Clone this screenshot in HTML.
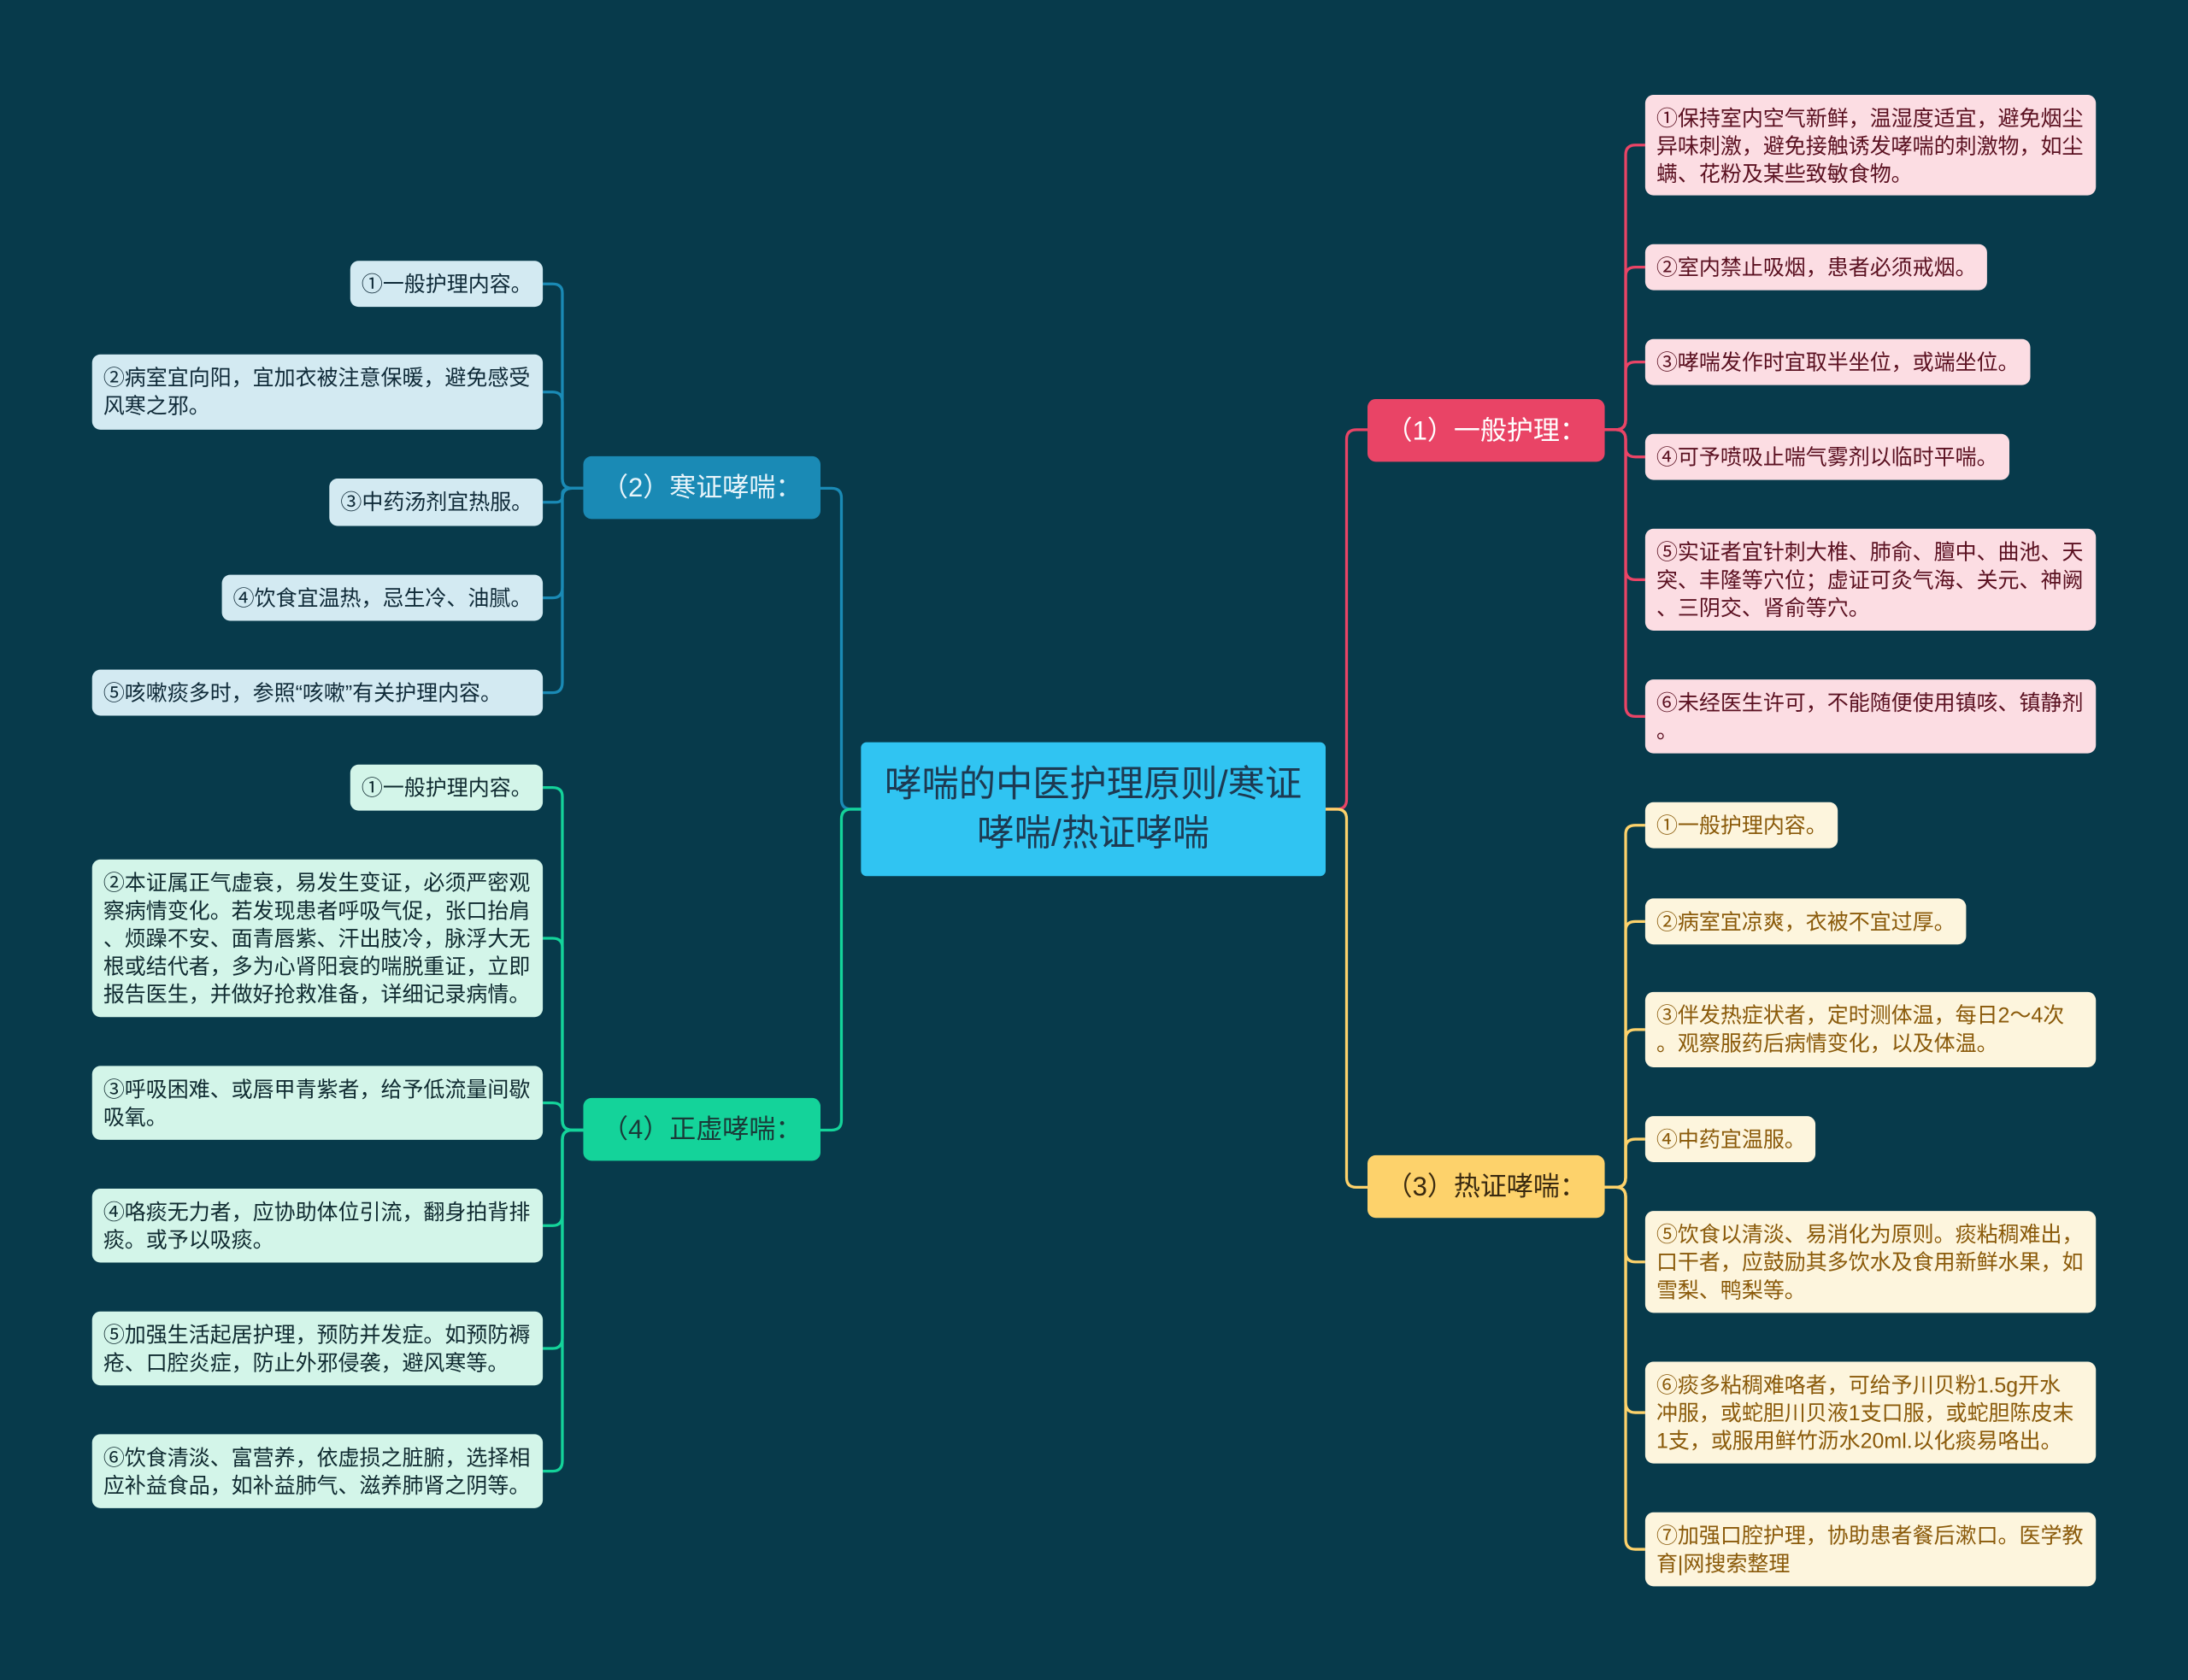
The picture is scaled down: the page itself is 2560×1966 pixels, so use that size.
<!DOCTYPE html>
<html><head><meta charset="utf-8">
<style>
html,body{margin:0;padding:0;background:#073a4b;width:2560px;height:1965px;overflow:hidden}
#s{position:absolute;left:0;top:0;width:1568px;height:1204px;transform:scale(1.63265);transform-origin:0 0;font-family:"Liberation Sans","Noto Sans CJK SC",sans-serif}
.b{position:absolute;box-sizing:border-box;border-radius:6px;font-size:15.3px;line-height:20px;padding:8px 7px 6px 8px;white-space:nowrap;overflow:hidden}
.p{background:#fcdde3;color:#5a1020}
.y{background:#fdf5dd;color:#8a5a0a}
.u{background:#d3eaf2;color:#0f2a38}
.g{background:#d3f5e9;color:#0f2a30}
.br{position:absolute;box-sizing:border-box;border-radius:6px;font-size:19px;line-height:47px;height:45px;width:170px;text-align:center}
svg{position:absolute;left:0;top:0}
path{fill:none;stroke-width:2}
</style></head><body><div id="s">
<svg width="1568" height="1204">
<g stroke="#e94466">
<path d="M950 580 H958 Q965 580 965 573 V315 Q965 308 972 308 H980"/>
<path d="M1150 308 H1158 Q1165 308 1165 301 V111 Q1165 104 1172 104 H1179"/>
<path d="M1150 308 H1158 Q1165 308 1165 301 V198 Q1165 191.5 1172 191.5 H1179"/>
<path d="M1150 308 H1158 Q1165 308 1165 301 V266 Q1165 259.5 1172 259.5 H1179"/>
<path d="M1150 308 H1158 Q1165 308 1165 315 V321 Q1165 327.5 1172 327.5 H1179"/>
<path d="M1150 308 H1158 Q1165 308 1165 315 V408 Q1165 415.5 1172 415.5 H1179"/>
<path d="M1150 308 H1158 Q1165 308 1165 315 V506 Q1165 513.5 1172 513.5 H1179"/>
</g>
<g stroke="#fdd26b">
<path d="M950 580 H958 Q965 580 965 587 V844 Q965 851 972 851 H980"/>
<path d="M1150 851 H1158 Q1165 851 1165 844 V598 Q1165 591.5 1172 591.5 H1179"/>
<path d="M1150 851 H1158 Q1165 851 1165 844 V667 Q1165 660.5 1172 660.5 H1179"/>
<path d="M1150 851 H1158 Q1165 851 1165 844 V745 Q1165 738 1172 738 H1179"/>
<path d="M1150 851 H1158 Q1165 851 1165 844 V823 Q1165 816.5 1172 816.5 H1179"/>
<path d="M1150 851 H1158 Q1165 851 1165 858 V897 Q1165 904.5 1172 904.5 H1179"/>
<path d="M1150 851 H1158 Q1165 851 1165 858 V1005 Q1165 1012.5 1172 1012.5 H1179"/>
<path d="M1150 851 H1158 Q1165 851 1165 858 V1103 Q1165 1110.5 1172 1110.5 H1179"/>
</g>
<g stroke="#1a8ab5">
<path d="M617 580 H610 Q603 580 603 573 V357 Q603 350 596 350 H588"/>
<path d="M418 350 H410 Q403 350 403 343 V210 Q403 203.5 396 203.5 H389"/>
<path d="M418 350 H410 Q403 350 403 343 V288 Q403 281 396 281 H389"/>
<path d="M418 350 H410 Q403 350 403 354 V356 Q403 360 398 360 H389"/>
<path d="M418 350 H410 Q403 350 403 357 V421 Q403 428.5 396 428.5 H389"/>
<path d="M418 350 H410 Q403 350 403 357 V489 Q403 496.5 396 496.5 H389"/>
</g>
<g stroke="#14d39a">
<path d="M617 580 H610 Q603 580 603 587 V803 Q603 810 596 810 H588"/>
<path d="M418 810 H410 Q403 810 403 803 V571 Q403 564.5 396 564.5 H389"/>
<path d="M418 810 H410 Q403 810 403 803 V679 Q403 672.5 396 672.5 H389"/>
<path d="M418 810 H410 Q403 810 403 803 V797 Q403 790.5 396 790.5 H389"/>
<path d="M418 810 H410 Q403 810 403 817 V871 Q403 878.5 396 878.5 H389"/>
<path d="M418 810 H410 Q403 810 403 817 V959 Q403 966.5 396 966.5 H389"/>
<path d="M418 810 H410 Q403 810 403 817 V1047 Q403 1054.5 396 1054.5 H389"/>
</g>
</svg>

<div class="b" style="left:617px;top:532px;width:333px;height:96px;background:#30c4f2;color:#1d3a52;font-size:26.5px;line-height:35px;text-align:center;padding:13px 4px;border-radius:4px">哮喘的中医护理原则/寒证<br>哮喘/热证哮喘</div>

<div class="br" style="left:980px;top:286px;background:#e94466;color:#fff">（1）一般护理：</div>
<div class="br" style="left:980px;top:828px;background:#fdd26b;color:#3a2a10">（3）热证哮喘：</div>
<div class="br" style="left:418px;top:327px;background:#1a8ab5;color:#e6f4fa">（2）寒证哮喘：</div>
<div class="br" style="left:418px;top:787px;background:#14d39a;color:#1a3a38">（4）正虚哮喘：</div>

<div class="b p" style="left:1179px;top:68px;width:323px;height:72px">①保持室内空气新鲜，温湿度适宜，避免烟尘<br>异味刺激，避免接触诱发哮喘的刺激物，如尘<br>螨、花粉及某些致敏食物。</div>
<div class="b p" style="left:1179px;top:175px;width:245px;height:33px">②室内禁止吸烟，患者必须戒烟。</div>
<div class="b p" style="left:1179px;top:243px;width:276px;height:33px">③哮喘发作时宜取半坐位，或端坐位。</div>
<div class="b p" style="left:1179px;top:311px;width:261px;height:33px">④可予喷吸止喘气雾剂以临时平喘。</div>
<div class="b p" style="left:1179px;top:379px;width:323px;height:73px">⑤实证者宜针刺大椎、肺俞、膻中、曲池、天<br>突、丰隆等穴位；虚证可灸气海、关元、神阙<br>、三阴交、肾俞等穴。</div>
<div class="b p" style="left:1179px;top:487px;width:323px;height:53px">⑥未经医生许可，不能随便使用镇咳、镇静剂<br>。</div>

<div class="b y" style="left:1179px;top:575px;width:138px;height:33px">①一般护理内容。</div>
<div class="b y" style="left:1179px;top:644px;width:230px;height:33px">②病室宜凉爽，衣被不宜过厚。</div>
<div class="b y" style="left:1179px;top:711px;width:323px;height:54px">③伴发热症状者，定时测体温，每日2～4次<br>。观察服药后病情变化，以及体温。</div>
<div class="b y" style="left:1179px;top:800px;width:122px;height:33px">④中药宜温服。</div>
<div class="b y" style="left:1179px;top:868px;width:323px;height:73px">⑤饮食以清淡、易消化为原则。痰粘稠难出，<br>口干者，应鼓励其多饮水及食用新鲜水果，如<br>雪梨、鸭梨等。</div>
<div class="b y" style="left:1179px;top:976px;width:323px;height:73px">⑥痰多粘稠难咯者，可给予川贝粉1.5g开水<br>冲服，或蛇胆川贝液1支口服，或蛇胆陈皮末<br>1支，或服用鲜竹沥水20ml.以化痰易咯出。</div>
<div class="b y" style="left:1179px;top:1084px;width:323px;height:53px">⑦加强口腔护理，协助患者餐后漱口。医学教<br>育|网搜索整理</div>

<div class="b u" style="left:251px;top:187px;width:138px;height:33px">①一般护理内容。</div>
<div class="b u" style="left:66px;top:254px;width:323px;height:54px">②病室宜向阳，宜加衣被注意保暖，避免感受<br>风寒之邪。</div>
<div class="b u" style="left:236px;top:343px;width:153px;height:34px">③中药汤剂宜热服。</div>
<div class="b u" style="left:159px;top:412px;width:230px;height:33px">④饮食宜温热，忌生冷、油腻。</div>
<div class="b u" style="left:66px;top:480px;width:323px;height:33px">⑤咳嗽痰多时，参照“咳嗽”有关护理内容。</div>

<div class="b g" style="left:251px;top:548px;width:138px;height:33px">①一般护理内容。</div>
<div class="b g" style="left:66px;top:616px;width:323px;height:113px">②本证属正气虚衰，易发生变证，必须严密观<br>察病情变化。若发现患者呼吸气促，张口抬肩<br>、烦躁不安、面青唇紫、汗出肢冷，脉浮大无<br>根或结代者，多为心肾阳衰的喘脱重证，立即<br>报告医生，并做好抢救准备，详细记录病情。</div>
<div class="b g" style="left:66px;top:764px;width:323px;height:53px">③呼吸困难、或唇甲青紫者，给予低流量间歇<br>吸氧。</div>
<div class="b g" style="left:66px;top:852px;width:323px;height:53px">④咯痰无力者，应协助体位引流，翻身拍背排<br>痰。或予以吸痰。</div>
<div class="b g" style="left:66px;top:940px;width:323px;height:53px">⑤加强生活起居护理，预防并发症。如预防褥<br>疮、口腔炎症，防止外邪侵袭，避风寒等。</div>
<div class="b g" style="left:66px;top:1028px;width:323px;height:53px">⑥饮食清淡、富营养，依虚损之脏腑，选择相<br>应补益食品，如补益肺气、滋养肺肾之阴等。</div>
</div></body></html>
